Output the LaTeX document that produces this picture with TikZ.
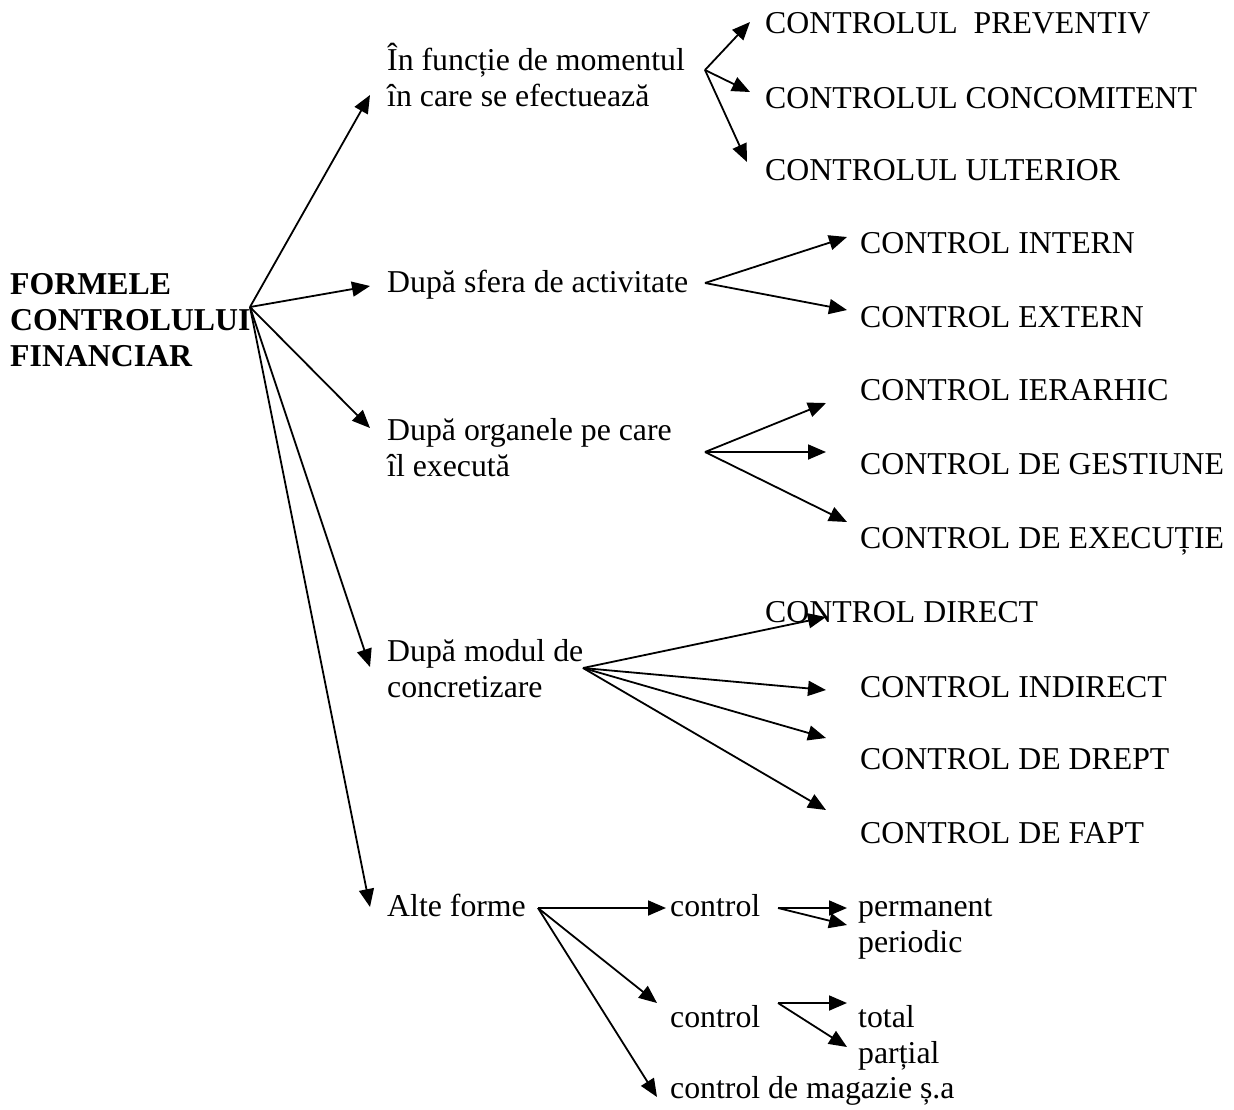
\documentclass[tikz,border=0pt]{standalone}
\usepackage{fontspec}
\setmainfont{Liberation Serif}
\usetikzlibrary{arrows.meta}
\begin{document}
\begin{tikzpicture}[x=1pt,y=-1pt,
  % multi-line labels are placed by the baseline of their last line
  lbl/.style={anchor=base west,inner sep=0pt,align=left,
    font=\fontsize{31.8}{36}\selectfont},
  rootlbl/.style={lbl,font=\fontsize{31.8}{36}\selectfont\bfseries},
  arr/.style={line width=1.8pt,line join=miter,
    -{Triangle[length=18pt,width=15pt]}}]
\useasboundingbox (0,0) rectangle (1234,1109);

% root
\node[rootlbl] (root) at (10,366) {FORMELE\\CONTROLULUI\\FINANCIAR};
\coordinate (r0) at (250,307);

% first level criteria
\node[lbl] (m1) at (387,106) {În funcție de momentul\\în care se efectuează};
\node[lbl] (m2) at (387,292) {După sfera de activitate};
\node[lbl] (m3) at (387,476) {După organele pe care\\îl execută};
\node[lbl] (m4) at (387,697) {După modul de\\concretizare};
\node[lbl] (m5) at (387,916) {Alte forme};

\coordinate (t1) at (370,95);
\coordinate (t2) at (370,286);
\coordinate (t3) at (370,428);
\coordinate (t4) at (370,667);
\coordinate (t5) at (370,907);
\foreach \t in {t1,t2,t3,t4,t5} \draw[arr] (r0) -- (\t);

% moment
\node[lbl] (a1) at (765,33) {CONTROLUL\ \ PREVENTIV};
\node[lbl] (a2) at (765,108) {CONTROLUL CONCOMITENT};
\node[lbl] (a3) at (765,180) {CONTROLUL ULTERIOR};
\coordinate (v1) at (705,70);
\coordinate (a1t) at (750,22);
\coordinate (a2t) at (750,92);
\coordinate (a3t) at (747,162);
\foreach \t in {a1t,a2t,a3t} \draw[arr] (v1) -- (\t);

% sphere of activity
\node[lbl] (b1) at (860,253) {CONTROL INTERN};
\node[lbl] (b2) at (860,327) {CONTROL EXTERN};
\coordinate (v2) at (705,283);
\coordinate (b1t) at (847,237);
\coordinate (b2t) at (847,310);
\foreach \t in {b1t,b2t} \draw[arr] (v2) -- (\t);

% executing bodies
\node[lbl] (c1) at (860,400) {CONTROL IERARHIC};
\node[lbl] (c2) at (860,474) {CONTROL DE GESTIUNE};
\node[lbl] (c3) at (860,548) {CONTROL DE EXECUȚIE};
\coordinate (v3) at (705,452);
\coordinate (c1t) at (826,403);
\coordinate (c2t) at (826,452);
\coordinate (c3t) at (847,522);
\foreach \t in {c1t,c2t,c3t} \draw[arr] (v3) -- (\t);

% way of materialisation
\node[lbl] (d1) at (765,622) {CONTROL DIRECT};
\node[lbl] (d2) at (860,697) {CONTROL INDIRECT};
\node[lbl] (d3) at (860,769) {CONTROL DE DREPT};
\node[lbl] (d4) at (860,843) {CONTROL DE FAPT};
\coordinate (v4) at (583,668);
\coordinate (d1t) at (826,617);
\coordinate (d2t) at (826,690);
\coordinate (d3t) at (826,738);
\coordinate (d4t) at (826,810);
\foreach \t in {d1t,d2t,d3t,d4t} \draw[arr] (v4) -- (\t);

% other forms
\node[lbl] (e1) at (670,916) {control};
\node[lbl] (e2) at (670,1027) {control};
\node[lbl] (e3) at (670,1098) {control de magazie ș.a};
\coordinate (v5) at (538,908);
\coordinate (e1t) at (666,908);
\coordinate (e2t) at (657,1003);
\coordinate (e3t) at (657,1097);
\foreach \t in {e1t,e2t,e3t} \draw[arr] (v5) -- (\t);

\node[lbl] (f1) at (858,952) {permanent\\periodic};
\coordinate (v6) at (778,908);
\coordinate (f1t) at (847,908);
\coordinate (f2t) at (847,925);
\foreach \t in {f1t,f2t} \draw[arr] (v6) -- (\t);

\node[lbl] (g1) at (858,1063) {total\\parțial};
\coordinate (v7) at (778,1003);
\coordinate (g1t) at (847,1003);
\coordinate (g2t) at (847,1047);
\foreach \t in {g1t,g2t} \draw[arr] (v7) -- (\t);
\end{tikzpicture}
\end{document}
